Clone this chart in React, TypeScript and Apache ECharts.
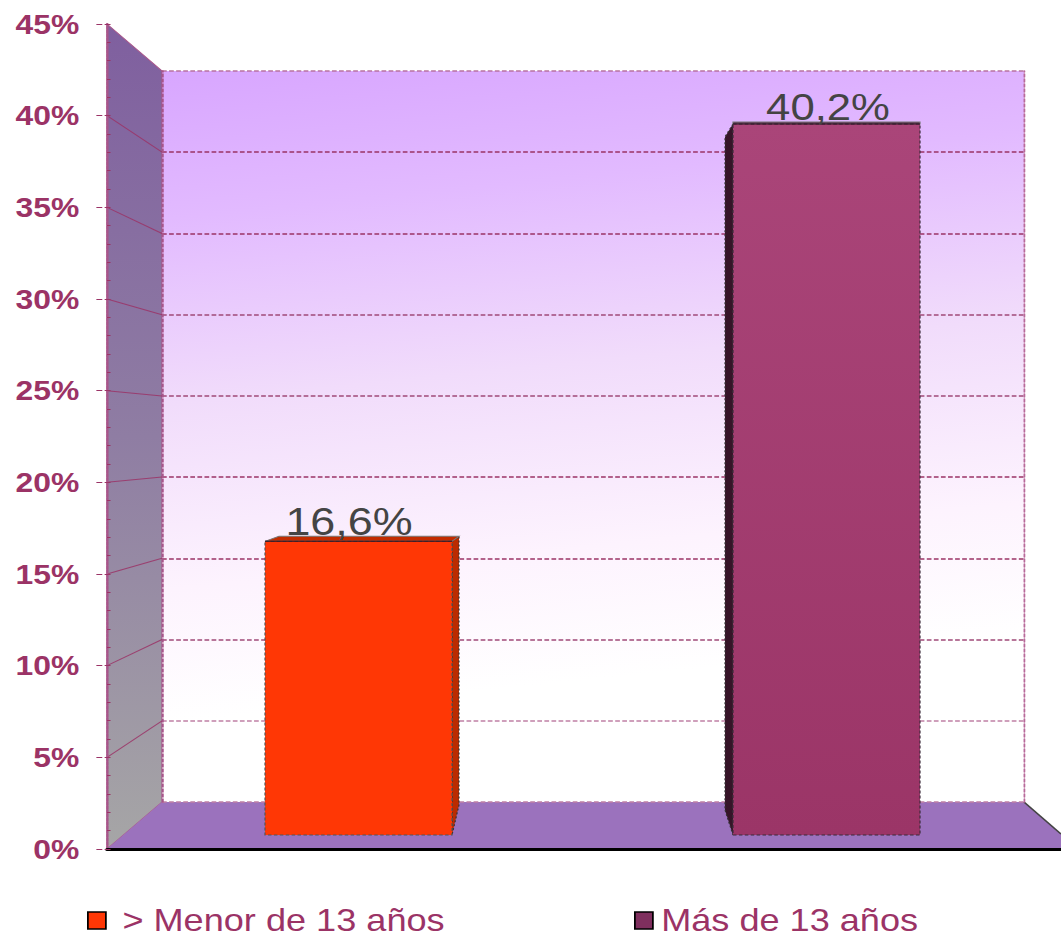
import React, { useEffect, useRef } from "react";
import * as echarts from "echarts";

const categories = ["> Menor de 13 años", "Más de 13 años"];
const values = [16.6, 40.2];
const tickStep = 5;
const axisMax = 45;
const wallTicks = [0, 5, 10, 15, 20, 25, 30, 35, 40, 45];
const gridLineColors = ["#c080a5", "#c080a5", "#a04a78", "#9b3366", "#9b3366", "#a04a78", "#a04a78", "#9b3366", "#9b3366", "#b873a0"];

const WIDTH = 1061;
const HEIGHT = 936;
const LOGICAL_W = 899;
const S = WIDTH / LOGICAL_W;
const lx = (x: number) => x / S;

const MAROON = "#9b3366";
const FONT = "Liberation Sans";

const frontY = (v: number) => 849 - (v * 825) / axisMax;
const backY = (v: number) => 802 - (v * 731) / axisMax;

const barStyles = [
  {
    fill: "#ff3705",
    side: "#bb2b00",
    topFill: "#c22b00",
    sideDx: 7,
    sideTopDy: -5,
    sideBaseDy: -30,
    labelDx: -9.5,
    labelSize: 38,
    topInset: 14,
    topDy: -5,
    labelBottom: 4,
    edge: "#555",
  },
  {
    fill: {
      type: "linear",
      x: 0,
      y: 0,
      x2: 0,
      y2: 1,
      colorStops: [
        { offset: 0, color: "#aa4579" },
        { offset: 1, color: "#9b3567" },
      ],
    },
    side: "#361428",
    topFill: "#5f2a4e",
    sideDx: -8,
    sideTopDy: 13,
    sideBaseDy: -25,
    labelDx: 1.5,
    labelSize: 37,
    topInset: 0,
    topDy: -2,
    labelBottom: 4,
    edge: "#3b2a3a",
  },
];

function renderBar(index: number) {
  return (_params: any, api: any) => {
    const st = barStyles[index];
    const cat = api.value(0);
    const val = api.value(1);
    const [cx, top] = api.coord([cat, val]);
    const [, base] = api.coord([cat, 0]);
    const half = (api.size([1, 0])[0] * 0.3996) / 2;
    const l = cx - half;
    const r = cx + half;
    const edgeX = st.sideDx > 0 ? r : l;
    const sdx = lx(st.sideDx);
    const children: any[] = [
      {
        type: "polygon",
        shape: {
          points: [
            [edgeX, top],
            [edgeX + sdx, top + st.sideTopDy],
            [edgeX + sdx, base + st.sideBaseDy],
            [edgeX, base],
          ],
        },
        style: { fill: st.side, stroke: "#333", lineWidth: 1, lineDash: [2, 2] },
      },
      {
        type: "polygon",
        shape: {
          points: [
            [l, top],
            [l + lx(st.topInset), top + st.topDy],
            [r + (st.sideDx > 0 ? sdx : 0), top + st.topDy],
            [r, top],
          ],
        },
        style: { fill: st.topFill, stroke: "#777", lineWidth: 1 },
      },
      {
        type: "rect",
        shape: { x: l, y: top, width: r - l, height: base - top },
        style: { fill: st.fill, stroke: st.edge, lineWidth: 1, lineDash: [3, 2] },
      },
      {
        type: "line",
        shape: { x1: l, y1: top, x2: r, y2: top },
        style: { stroke: "#2a1020", lineWidth: 1 },
      },
      {
        type: "text",
        x: cx + lx(st.labelDx),
        y: top + st.topDy + st.labelBottom,
        style: {
          text: String(val).replace(".", ",") + "%",
          font: `${st.labelSize}px "${FONT}"`,
          fill: "#444444",
          align: "center",
          verticalAlign: "bottom",
        },
      },
    ];
    return { type: "group", children };
  };
}

function buildOption() {
  const wallLines = wallTicks.slice(1, -1).map((v) => ({
    type: "line",
    z: -5,
    shape: { x1: lx(107), y1: frontY(v), x2: lx(162), y2: backY(v) },
    style: { stroke: "#9b3366", lineWidth: 1, opacity: 0.85 },
    silent: true,
  }));
  const legendBase = {
    orient: "horizontal",
    icon: "rect",
    padding: 0,
    itemWidth: lx(18),
    itemHeight: 17,
    selectedMode: false,
    textStyle: { fontFamily: FONT, fontSize: 30.6, color: MAROON },
    itemStyle: { borderColor: "#000", borderWidth: 1.5 },
  };
  return {
    animation: false,
    backgroundColor: "#ffffff",
    grid: [
      { left: lx(107), top: 24, width: lx(WIDTH - 107), height: 825 },
      { left: lx(162), top: 71, width: lx(862), height: 731 },
      { left: lx(124.5), top: 39, width: lx(936), height: 796 },
    ],
    xAxis: [
      {
        gridIndex: 0,
        type: "value",
        min: 0,
        max: 1,
        axisLine: { show: true, onZero: false, lineStyle: { color: "#000", width: 3 } },
        axisTick: { show: false },
        axisLabel: { show: false },
        splitLine: { show: false },
      },
      {
        gridIndex: 1,
        type: "value",
        min: 0,
        max: 1,
        show: false,
        splitLine: { show: false },
      },
      {
        gridIndex: 2,
        type: "category",
        data: categories,
        show: false,
      },
    ],
    yAxis: [
      {
        gridIndex: 0,
        type: "value",
        position: "left",
        min: 0,
        max: axisMax,
        interval: tickStep,
        axisLine: {
          show: true,
          onZero: false,
          lineStyle: { color: "#a8558a", width: 2, type: [3, 1] },
        },
        axisTick: {
          show: true,
          length: 9,
          lineStyle: { color: MAROON, width: 1, type: [2, 2, 5, 0] },
        },
        axisLabel: {
          show: true,
          margin: 23.5,
          formatter: "{value}%",
          fontFamily: FONT,
          fontWeight: "bold",
          fontSize: 27,
          color: MAROON,
        },
        splitLine: { show: false },
      },
      {
        gridIndex: 0,
        type: "value",
        position: "left",
        min: 0,
        max: axisMax,
        interval: 1,
        axisLine: { show: false, onZero: false },
        axisTick: { show: true, inside: true, length: 3, lineStyle: { color: MAROON, width: 1 } },
        axisLabel: { show: false },
        splitLine: { show: false },
      },
      {
        gridIndex: 1,
        type: "value",
        position: "left",
        min: 0,
        max: axisMax,
        interval: tickStep,
        axisLine: {
          show: true,
          onZero: false,
          lineStyle: { color: "#a8558a", width: 1.5, type: [3, 2] },
        },
        axisTick: { show: false },
        axisLabel: { show: false },
        splitLine: {
          show: true,
          lineStyle: { color: gridLineColors, width: 1.5, type: [4, 2] },
        },
      },
      {
        gridIndex: 1,
        type: "value",
        position: "right",
        min: 0,
        max: axisMax,
        interval: tickStep,
        axisLine: {
          show: true,
          onZero: false,
          lineStyle: { color: "#b86a9a", width: 1.5, type: [3, 2] },
        },
        axisTick: { show: false },
        axisLabel: { show: false },
        splitLine: { show: false },
      },
      {
        gridIndex: 2,
        type: "value",
        min: 0,
        max: axisMax,
        interval: tickStep,
        show: false,
        splitLine: { show: false },
      },
    ],
    legend: [
      {
        ...legendBase,
        left: lx(87),
        top: 905,
        data: [{ name: categories[0], itemStyle: { color: "#ff3705" } }],
        textStyle: { ...legendBase.textStyle, padding: [0, 0, 0, 9] },
      },
      {
        ...legendBase,
        left: lx(634),
        top: 905,
        data: [{ name: categories[1], itemStyle: { color: "#7f2f5e" } }],
        textStyle: { ...legendBase.textStyle, padding: [0, 0, 0, 2] },
      },
    ],
    graphic: [
      {
        type: "polygon",
        z: -10,
        silent: true,
        shape: {
          points: [
            [lx(107), 24],
            [lx(162), 71],
            [lx(162), 802],
            [lx(107), 849],
          ],
        },
        style: {
          fill: new echarts.graphic.LinearGradient(0, 0, 0, 1, [
            { offset: 0, color: "#7f5f9f" },
            { offset: 0.5, color: "#8f7da3" },
            { offset: 1, color: "#a6a6a6" },
          ]),
          stroke: "#a8558a",
          lineWidth: 1,
        },
      },
      {
        type: "rect",
        z: -10,
        silent: true,
        shape: { x: lx(162), y: 71, width: lx(862), height: 731 },
        style: {
          fill: new echarts.graphic.LinearGradient(0, 0, 0.12, 1, [
            { offset: 0, color: "#d8a6ff" },
            { offset: 0.2, color: "#e2baff" },
            { offset: 0.45, color: "#f1dcfb" },
            { offset: 0.7, color: "#fdf3fe" },
            { offset: 0.88, color: "#ffffff" },
            { offset: 1, color: "#ffffff" },
          ]),
        },
      },
      {
        type: "polygon",
        z: -9,
        silent: true,
        shape: {
          points: [
            [lx(107), 849],
            [lx(162), 802],
            [lx(1024), 802],
            [lx(1061), 834],
            [lx(1061), 849],
          ],
        },
        style: { fill: "#9b72bd" },
      },
      {
        type: "line",
        z: -8,
        silent: true,
        shape: { x1: lx(1024), y1: 802, x2: lx(1061), y2: 834 },
        style: { stroke: "#444", lineWidth: 1.5 },
      },
      ...wallLines,
    ],
    series: categories.map((name, i) => ({
      type: "custom",
      name,
      xAxisIndex: 2,
      yAxisIndex: 4,
      coordinateSystem: "cartesian2d",
      clip: false,
      z: 5,
      encode: { x: 0, y: 1 },
      data: [[i, values[i]]],
      renderItem: renderBar(i),
    })),
  };
}

export default function App() {
  const ref = useRef<HTMLDivElement>(null);
  useEffect(() => {
    document.body.style.margin = "0";
    const chart = echarts.init(ref.current!, undefined, {
      renderer: "svg",
      width: LOGICAL_W,
      height: HEIGHT,
    });
    chart.setOption(buildOption() as any);
    return () => chart.dispose();
  }, []);
  return (
    <div style={{ position: "absolute", left: 0, top: 0, width: WIDTH, height: HEIGHT, overflow: "hidden" }}>
      <div
        ref={ref}
        style={{
          width: LOGICAL_W,
          height: HEIGHT,
          transform: `scaleX(${S})`,
          transformOrigin: "0 0",
        }}
      />
    </div>
  );
}
